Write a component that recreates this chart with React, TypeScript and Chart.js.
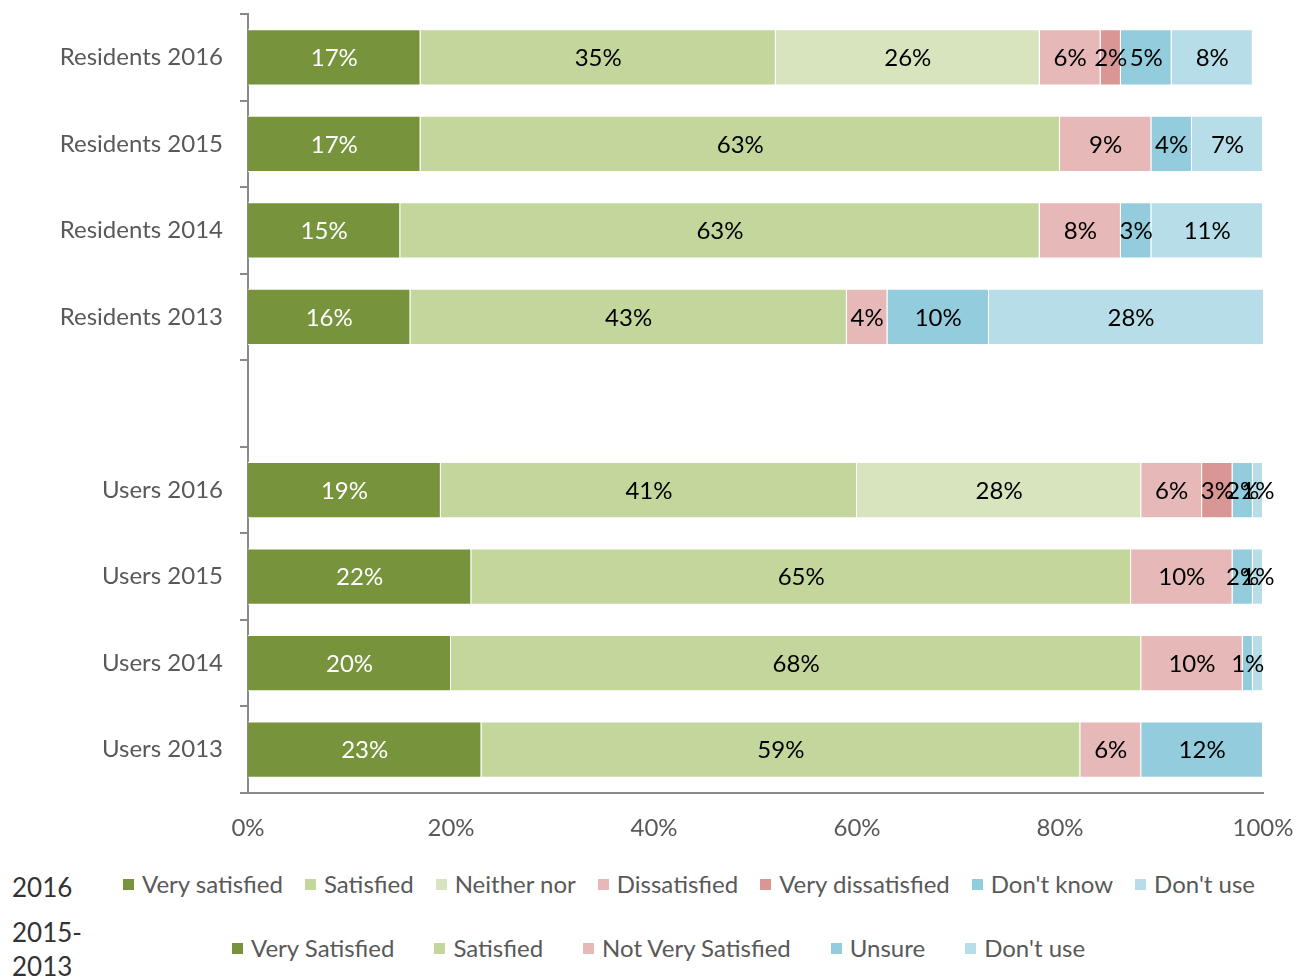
import React, { useEffect, useRef } from "react";
import { Chart, registerables } from "chart.js";

Chart.register(...registerables);

// ---- Data ----
const categories = [
  "Residents 2016",
  "Residents 2015",
  "Residents 2014",
  "Residents 2013",
  "",
  "Users 2016",
  "Users 2015",
  "Users 2014",
  "Users 2013",
];

// 2016 survey rows
const rows2016 = ["Residents 2016", "Users 2016"];
const s16Names = ["Very satisfied", "Satisfied", "Neither nor", "Dissatisfied", "Very dissatisfied", "Don't know", "Don't use"];
const s16VerySatisfied = [17, 19];
const s16Satisfied = [35, 41];
const s16Neither = [26, 28];
const s16Dissatisfied = [6, 6];
const s16VeryDissatisfied = [2, 3];
const s16DontKnow = [5, 2];
const s16DontUse = [8, 1];

// 2015-2013 survey rows
const rowsOld = ["Residents 2015", "Residents 2014", "Residents 2013", "Users 2015", "Users 2014", "Users 2013"];
const oldNames = ["Very Satisfied", "Satisfied", "Not Very Satisfied", "Unsure", "Don't use"];
const oldVerySatisfied = [17, 15, 16, 22, 20, 23];
const oldSatisfied = [63, 63, 43, 65, 68, 59];
const oldNotVery = [9, 8, 4, 10, 10, 6];
const oldUnsure = [4, 3, 10, 2, 1, 12];
const oldDontUse = [7, 11, 28, 1, 1, 0];

// labels not shown in the original
const hiddenLabels = [["Users 2014", "Don't use"]];

const xTicks = [0, 20, 40, 60, 80, 100];

// ---- Styles ----
const COLORS16 = ["#77933C", "#C3D69B", "#D7E4BD", "#E6B9B8", "#D99694", "#93CDDD", "#B7DEE8"];
const COLORSOLD = ["#77933C", "#C3D69B", "#E6B9B8", "#93CDDD", "#B7DEE8"];
const FONT = "Lato, 'Open Sans', sans-serif";
const AXIS_GRAY = "#898989";
const TEXT_GRAY = "#595959";

function align(rows: string[], vals: number[]) {
  return categories.map((c) => {
    const i = rows.indexOf(c);
    return i >= 0 ? vals[i] : null;
  });
}

const labelPlugin = {
  id: "segLabels",
  afterDatasetsDraw(chart: any) {
    const ctx = chart.ctx;
    ctx.save();
    ctx.font = `24px ${FONT}`;
    ctx.textAlign = "center";
    ctx.textBaseline = "middle";
    chart.data.datasets.forEach((ds: any, di: number) => {
      const meta = chart.getDatasetMeta(di);
      meta.data.forEach((el: any, i: number) => {
        const v = ds.data[i];
        if (v == null || v === 0) return;
        const cat = categories[i];
        if (hiddenLabels.some(([c, s]) => c === cat && s === ds.label)) return;
        ctx.fillStyle = ds.labelColor;
        const { x, base, y } = el.getProps(["x", "base", "y"], true);
        ctx.fillText(`${v}%`, (x + base) / 2, y + 1);
      });
    });
    ctx.restore();
  },
};

export default function App() {
  const ref = useRef<HTMLCanvasElement | null>(null);

  useEffect(() => {
    if (!ref.current) return;
    const vals16 = [s16VerySatisfied, s16Satisfied, s16Neither, s16Dissatisfied, s16VeryDissatisfied, s16DontKnow, s16DontUse];
    const valsOld = [oldVerySatisfied, oldSatisfied, oldNotVery, oldUnsure, oldDontUse];
    const datasets: any[] = [];
    s16Names.forEach((n, k) =>
      datasets.push({
        label: n,
        data: align(rows2016, vals16[k]),
        backgroundColor: COLORS16[k],
        borderColor: "#ffffff",
        borderWidth: 1,
        labelColor: k === 0 ? "#ffffff" : "#000000",
        stack: "s",
      })
    );
    oldNames.forEach((n, k) =>
      datasets.push({
        label: n,
        data: align(rowsOld, valsOld[k]),
        backgroundColor: COLORSOLD[k],
        borderColor: "#ffffff",
        borderWidth: 1,
        labelColor: k === 0 ? "#ffffff" : "#000000",
        stack: "s",
      })
    );

    const chart = new Chart(ref.current, {
      type: "bar",
      data: { labels: categories, datasets },
      options: {
        indexAxis: "y",
        animation: false,
        responsive: false,
        maintainAspectRatio: false,
        layout: { padding: { top: 14, right: 35, left: 0, bottom: 7 } },
        datasets: { bar: { barPercentage: 0.65, categoryPercentage: 1 } },
        plugins: { legend: { display: false }, tooltip: { enabled: false } },
        scales: {
          x: {
            stacked: true,
            min: 0,
            max: 100,
            afterBuildTicks: (s: any) => {
              s.ticks = xTicks.map((v) => ({ value: v }));
            },
            afterFit: (s: any) => {
              s.height = 60;
              s.paddingLeft = 0;
              s.paddingRight = 0;
            },
            grid: { display: false },
            border: { display: true, color: AXIS_GRAY, width: 2 },
            ticks: {
              padding: 13,
              color: TEXT_GRAY,
              font: { family: FONT, size: 24 },
              callback: (v: any) => `${v}%`,
              maxRotation: 0,
            },
          },
          y: {
            stacked: true,
            afterFit: (s: any) => {
              s.width = 248;
              s.paddingTop = 0;
              s.paddingBottom = 0;
            },
            grid: {
              display: true,
              drawOnChartArea: false,
              drawTicks: true,
              tickLength: 8,
              offset: true,
              color: AXIS_GRAY,
              lineWidth: 2,
            },
            border: { display: true, color: AXIS_GRAY, width: 2 },
            ticks: {
              padding: 17,
              color: TEXT_GRAY,
              font: { family: FONT, size: 24 },
            },
          },
        },
      },
      plugins: [labelPlugin],
    });
    return () => chart.destroy();
  }, []);

  const legendItem = (name: string, color: string) => (
    <div key={name + color} style={{ display: "flex", alignItems: "center" }}>
      <span style={{ width: 11, height: 11, background: color, display: "inline-block", marginRight: 8 }} />
      <span>{name}</span>
    </div>
  );

  return (
    <div style={{ position: "absolute", left: 0, top: 0, width: 1298, height: 979, background: "#fff", fontFamily: FONT }}>
      <canvas ref={ref} width={1298} height={860} style={{ position: "absolute", left: 0, top: 0 }} />
      <div style={{ position: "absolute", left: 12, top: 870, fontSize: 26, lineHeight: "34px", color: "#333333" }}>2016</div>
      <div style={{ position: "absolute", left: 12, top: 915, fontSize: 26, lineHeight: "34px", color: "#333333" }}>
        2015-
        <br />
        2013
      </div>
      <div style={{ position: "absolute", left: 123, top: 867, height: 34, display: "flex", gap: 22, fontSize: 24, color: TEXT_GRAY, lineHeight: "34px" }}>
        {s16Names.map((n, k) => legendItem(n, COLORS16[k]))}
      </div>
      <div style={{ position: "absolute", left: 232, top: 931, height: 34, display: "flex", gap: 40, fontSize: 24, color: TEXT_GRAY, lineHeight: "34px" }}>
        {oldNames.map((n, k) => legendItem(n, COLORSOLD[k]))}
      </div>
    </div>
  );
}
